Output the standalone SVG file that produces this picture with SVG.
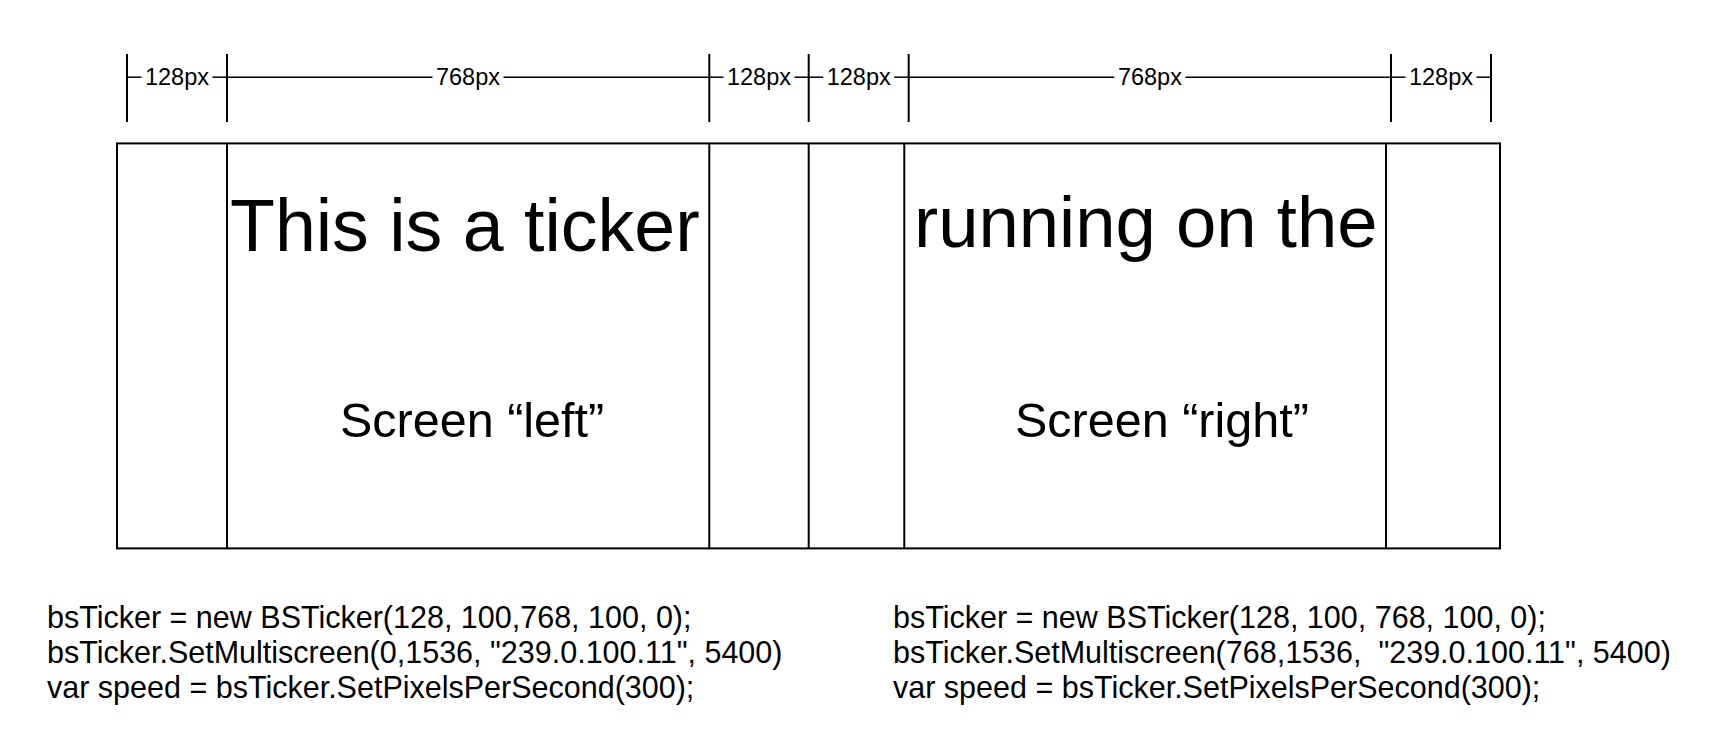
<svg xmlns="http://www.w3.org/2000/svg" width="1712" height="752" viewBox="0 0 1712 752">
<style>
text{font-family:"Liberation Sans",Arial,sans-serif;fill:#000}
.dim{font-size:23.5px;text-anchor:middle}
.tick{stroke:#000;stroke-width:2}
.dl{stroke:#000;stroke-width:1.5}
.box{fill:none;stroke:#000;stroke-width:2}
.big{font-size:73.5px}
.lbl{font-size:48.5px}
.code{font-size:30.5px;white-space:pre}
</style>
<rect width="1712" height="752" fill="#fff"/>
<g id="connectors">
<line class="tick" x1="127" y1="54" x2="127" y2="122"/>
<line class="tick" x1="227" y1="54" x2="227" y2="122"/>
<line class="tick" x1="709.3" y1="54" x2="709.3" y2="122"/>
<line class="tick" x1="808.7" y1="54" x2="808.7" y2="122"/>
<line class="tick" x1="908.7" y1="54" x2="908.7" y2="122"/>
<line class="tick" x1="1391" y1="54" x2="1391" y2="122"/>
<line class="tick" x1="1491" y1="54" x2="1491" y2="122"/>
<line class="dl" x1="127" y1="77.2" x2="141.5" y2="77.2"/>
<line class="dl" x1="212.5" y1="77.2" x2="227" y2="77.2"/>
<line class="dl" x1="227" y1="77.2" x2="432.5" y2="77.2"/>
<line class="dl" x1="503.5" y1="77.2" x2="709.3" y2="77.2"/>
<line class="dl" x1="709.3" y1="77.2" x2="723.5" y2="77.2"/>
<line class="dl" x1="794.5" y1="77.2" x2="808.7" y2="77.2"/>
<line class="dl" x1="808.7" y1="77.2" x2="823.2" y2="77.2"/>
<line class="dl" x1="894.2" y1="77.2" x2="908.7" y2="77.2"/>
<line class="dl" x1="908.7" y1="77.2" x2="1114.4" y2="77.2"/>
<line class="dl" x1="1185.4" y1="77.2" x2="1391" y2="77.2"/>
<line class="dl" x1="1391" y1="77.2" x2="1405.5" y2="77.2"/>
<line class="dl" x1="1476.5" y1="77.2" x2="1491" y2="77.2"/>
</g>
<g id="dimension-labels">
<text class="dim" x="177" y="85">128px</text>
<text class="dim" x="468" y="85">768px</text>
<text class="dim" x="759" y="85">128px</text>
<text class="dim" x="858.7" y="85">128px</text>
<text class="dim" x="1149.9" y="85">768px</text>
<text class="dim" x="1441" y="85">128px</text>
</g>
<g id="frame">
<rect class="box" x="117" y="143.4" width="1383" height="405"/>
<line class="box" x1="227" y1="143.4" x2="227" y2="548.4"/>
<line class="box" x1="709.3" y1="143.4" x2="709.3" y2="548.4"/>
<line class="box" x1="808.7" y1="143.4" x2="808.7" y2="548.4"/>
<line class="box" x1="904.3" y1="143.4" x2="904.3" y2="548.4"/>
<line class="box" x1="1386" y1="143.4" x2="1386" y2="548.4"/>
</g>
<g id="screen-left">
<text class="big" x="230" y="251">This is a ticker</text>
<text class="lbl" x="340" y="436.7">Screen “left”</text>
</g>
<g id="screen-right">
<text class="big" x="914" y="247" style="font-size:72.5px">running on the</text>
<text class="lbl" x="1015" y="436.7">Screen “right”</text>
</g>
<g id="code-left">
<text class="code" x="47" y="628.3">bsTicker = new BSTicker(128, 100,768, 100, 0);</text>
<text class="code" x="47" y="663.3">bsTicker.SetMultiscreen(0,1536, "239.0.100.11", 5400)</text>
<text class="code" x="47" y="698.3">var speed = bsTicker.SetPixelsPerSecond(300);</text>
</g>
<g id="code-right">
<text class="code" x="893" y="628.3">bsTicker = new BSTicker(128, 100, 768, 100, 0);</text>
<text class="code" x="893" y="663.3" xml:space="preserve">bsTicker.SetMultiscreen(768,1536,  "239.0.100.11", 5400)</text>
<text class="code" x="893" y="698.3">var speed = bsTicker.SetPixelsPerSecond(300);</text>
</g>
</svg>
